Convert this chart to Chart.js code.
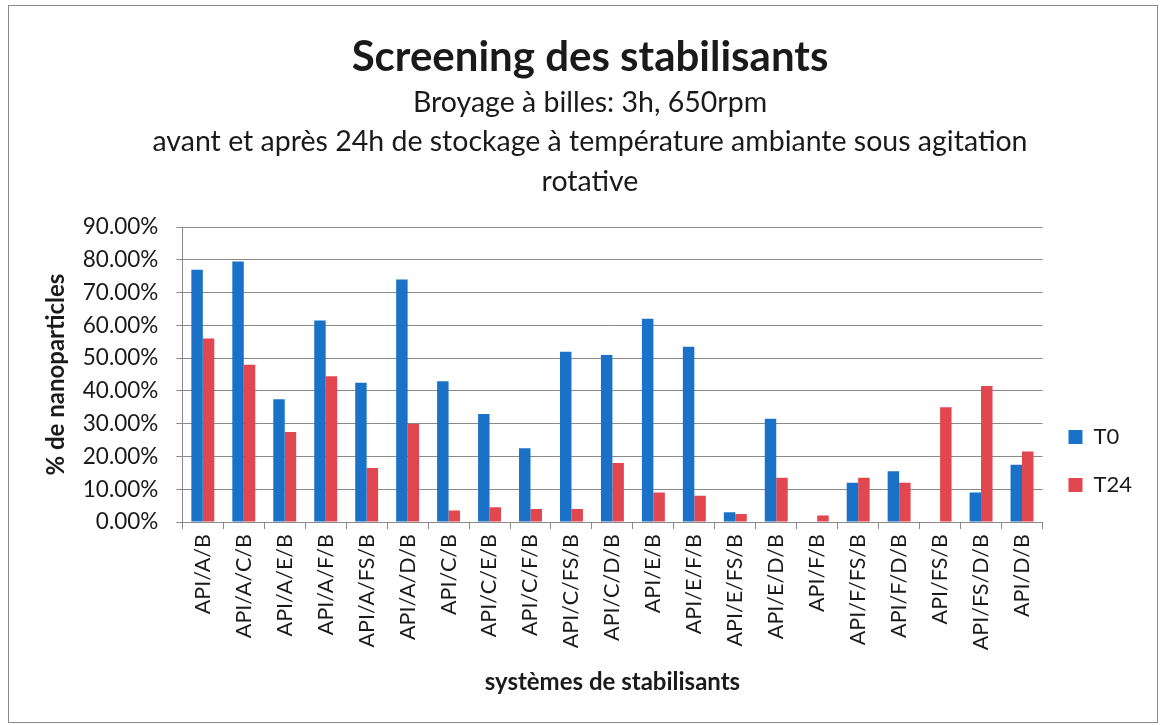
<!DOCTYPE html>
<html>
<head>
<meta charset="utf-8">
<script src="https://cdn.jsdelivr.net/npm/chart.js@4/dist/chart.umd.min.js"></script>
<style>
  html, body { margin: 0; padding: 0; background: #fff; }
  #wrap { position: relative; width: 1161px; height: 725px; }
  #frame { position: absolute; left: 8px; top: 5px; right: 3px; bottom: 2px; border: 1px solid #8a8a8a; pointer-events: none; }
</style>
</head>
<body>
<div id="wrap">
  <canvas id="chart" width="1161" height="725"></canvas>
  <div id="frame"></div>
</div>
<script>
const categories = [
  "API/A/B", "API/A/C/B", "API/A/E/B", "API/A/F/B", "API/A/FS/B", "API/A/D/B",
  "API/C/B", "API/C/E/B", "API/C/F/B", "API/C/FS/B", "API/C/D/B", "API/E/B",
  "API/E/F/B", "API/E/FS/B", "API/E/D/B", "API/F/B", "API/F/FS/B", "API/F/D/B",
  "API/FS/B", "API/FS/D/B", "API/D/B"
];
// % de nanoparticles
const t0 = [77, 79.5, 37.5, 61.5, 42.5, 74, 43, 33, 22.5, 52, 51, 62, 53.5, 3, 31.5, 0, 12, 15.5, 0, 9, 17.5];
const t24 = [56, 48, 27.5, 44.5, 16.5, 30, 3.5, 4.5, 4, 4, 18, 9, 8, 2.5, 13.5, 2, 13.5, 12, 35, 41.5, 21.5];
const yTicks = [0, 10, 20, 30, 40, 50, 60, 70, 80, 90];

const font = "Lato, 'Open Sans', sans-serif";
const gridColor = "#8a8a8a";
const textColor = "#1a1a1a";

const ctx = document.getElementById("chart").getContext("2d");
new Chart(ctx, {
  type: "bar",
  data: {
    labels: categories,
    datasets: [
      { label: "T0", data: t0, backgroundColor: "#1a72c8", categoryPercentage: 0.56, barPercentage: 1.0 },
      { label: "T24", data: t24, backgroundColor: "#e2464e", categoryPercentage: 0.56, barPercentage: 1.0 },
    ],
  },
  options: {
    responsive: false,
    animation: false,
    layout: { padding: { top: 8, left: 38, right: 19, bottom: 24 } },
    plugins: {
      title: {
        display: true,
        text: "Screening des stabilisants",
        color: textColor,
        font: { family: font, size: 42, weight: "bold", lineHeight: 1.2 },
        padding: { top: 24, bottom: 0 },
      },
      subtitle: {
        display: true,
        text: [
          "Broyage à billes: 3h, 650rpm",
          "avant et après 24h de stockage à température ambiante sous agitation",
          "rotative",
        ],
        color: textColor,
        font: { family: font, size: 28.5, lineHeight: 1.4 },
        padding: { top: 0, bottom: 25 },
      },
      legend: {
        position: "right",
        align: "end",
        fullSize: false,
        labels: {
          color: textColor,
          boxWidth: 14,
          boxHeight: 14,
          padding: 26,
          font: { family: font, size: 22 },
        },
      },
      tooltip: { enabled: false },
    },
    scales: {
      x: {
        grid: { offset: true, drawOnChartArea: false, drawTicks: true, tickLength: 7, color: gridColor },
        border: { color: gridColor },
        ticks: {
          color: textColor,
          minRotation: 90,
          maxRotation: 90,
          autoSkip: false,
          padding: 5,
          font: { family: font, size: 21.5 },
        },
        title: {
          display: true,
          text: "systèmes de stabilisants",
          color: textColor,
          font: { family: font, size: 24, weight: "bold" },
          padding: { top: 13, bottom: 4 },
        },
      },
      y: {
        min: 0,
        max: 90,
        afterBuildTicks: (scale) => {
          scale.ticks = yTicks.map((v) => ({ value: v }));
        },
        grid: { color: gridColor, tickLength: 6 },
        border: { color: gridColor },
        ticks: {
          color: textColor,
          padding: 18,
          font: { family: font, size: 22.5 },
          callback: (v) => v.toFixed(2) + "%",
        },
        title: {
          display: true,
          text: "% de nanoparticles",
          color: textColor,
          font: { family: font, size: 24, weight: "bold" },
          padding: { top: 4, bottom: -6 },
        },
      },
    },
  },
});
</script>
</body>
</html>
